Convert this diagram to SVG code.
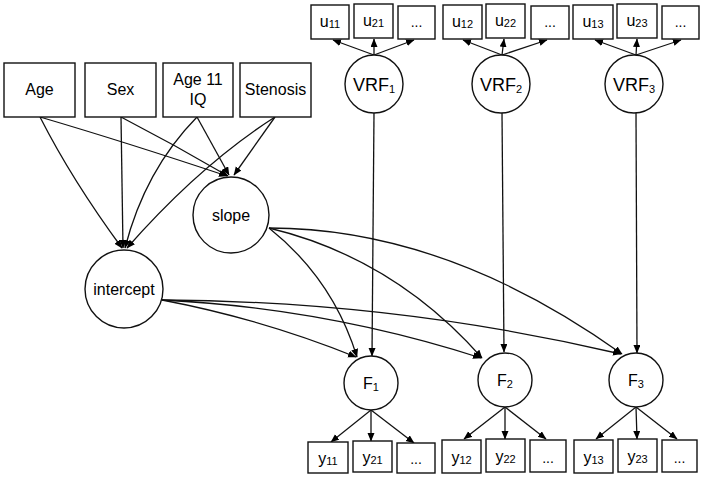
<svg xmlns="http://www.w3.org/2000/svg" width="702" height="481" viewBox="0 0 702 481">
<style>
.b{fill:#fff;stroke:#111;stroke-width:1.4}
.c{fill:#fff;stroke:#111;stroke-width:1.4}
.e{fill:none;stroke:#111;stroke-width:1.3}
text{font-family:"Liberation Sans",Arial,sans-serif;fill:#000;text-anchor:middle}
.t16{font-size:16px}
.t18{font-size:18px}
.s{font-size:11px}
.d{font-size:14px}
</style>
<defs>
<marker id="ah" markerUnits="userSpaceOnUse" markerWidth="10" markerHeight="8" refX="8" refY="3.5" orient="auto">
<path d="M0,0 L8.5,3.5 L0,7 z" fill="#000"/>
</marker>
</defs>
<rect width="702" height="481" fill="#fff"/>
<g id="connectors" class="e" marker-end="url(#ah)">
<path d="M40,117 Q125,142 227,176"/>
<path d="M40,117 Q72,180 122,248"/>
<path d="M121,117 L123,248"/>
<path d="M121,117 Q175,145 228,176"/>
<path d="M197,117 Q145,170 125,248"/>
<path d="M197,117 L229,175"/>
<path d="M275,117 Q200,165 127,248"/>
<path d="M275,117 L234,175"/>
<path d="M269,228 Q333,279 357,357"/>
<path d="M269,228 Q394,258 482,358"/>
<path d="M269,228 Q446,228 622,354"/>
<path d="M162,300 Q262,319 356,357"/>
<path d="M162,300 Q326,308 481,358"/>
<path d="M162,300 Q395,301 621,354"/>
<path d="M374,113 L372,356"/>
<path d="M502,113 L504,352"/>
<path d="M636,113 L637,353"/>
<path d="M374,55 L333,40"/>
<path d="M374,55 L374,39"/>
<path d="M374,55 L414,40"/>
<path d="M502,55 L463,40"/>
<path d="M502,55 L504,39"/>
<path d="M502,55 L547,40"/>
<path d="M636,55 L595,40"/>
<path d="M636,55 L637,39"/>
<path d="M636,55 L681,40"/>
<path d="M371,410 L331,442"/>
<path d="M371,410 L371,441"/>
<path d="M371,410 L414,443"/>
<path d="M505,407 L464,439"/>
<path d="M505,407 L505,439"/>
<path d="M505,407 L546,439"/>
<path d="M636,407 L596,439"/>
<path d="M636,407 L637,439"/>
<path d="M636,407 L677,439"/>
</g>
<g id="age"><rect class="b" x="4" y="63" width="71" height="54"/><text class="t16" x="39.5" y="95">Age</text></g>
<g id="sex"><rect class="b" x="85" y="63" width="71" height="54"/><text class="t16" x="120.5" y="95">Sex</text></g>
<g id="iq"><rect class="b" x="163" y="63" width="70" height="54"/><text class="t16" x="198" y="85">Age 11</text><text class="t16" x="198" y="105">IQ</text></g>
<g id="stenosis"><rect class="b" x="240" y="63" width="71" height="54"/><text class="t16" x="275.5" y="95">Stenosis</text></g>
<g id="slope"><circle class="c" cx="231" cy="215" r="38"/><text class="t16" x="231" y="221">slope</text></g>
<g id="intercept"><circle class="c" cx="124" cy="289" r="39"/><text class="t16" x="124" y="295">intercept</text></g>
<g id="vrf1"><circle class="c" cx="374" cy="84" r="29"/><text class="t18" x="374" y="91">VRF<tspan class="s" dy="2">1</tspan></text></g>
<g id="vrf2"><circle class="c" cx="501" cy="84" r="29"/><text class="t18" x="501" y="91">VRF<tspan class="s" dy="2">2</tspan></text></g>
<g id="vrf3"><circle class="c" cx="634" cy="84" r="29"/><text class="t18" x="634" y="91">VRF<tspan class="s" dy="2">3</tspan></text></g>
<g id="u11"><rect class="b" x="311" y="5" width="38" height="34"/><text class="t16" x="330" y="27">u<tspan class="s" dy="1">11</tspan></text></g>
<g id="u21"><rect class="b" x="354" y="4" width="39" height="34"/><text class="t16" x="373.5" y="26">u<tspan class="s" dy="1">21</tspan></text></g>
<g id="u1d"><rect class="b" x="398" y="6" width="37" height="33"/><text class="d" x="416.5" y="27">...</text></g>
<g id="u12"><rect class="b" x="443" y="5" width="39" height="34"/><text class="t16" x="462.5" y="27">u<tspan class="s" dy="1">12</tspan></text></g>
<g id="u22"><rect class="b" x="486" y="4" width="39" height="34"/><text class="t16" x="505.5" y="26">u<tspan class="s" dy="1">22</tspan></text></g>
<g id="u2d"><rect class="b" x="531" y="6" width="38" height="33"/><text class="d" x="550" y="27">...</text></g>
<g id="u13"><rect class="b" x="573" y="5" width="40" height="34"/><text class="t16" x="593" y="27">u<tspan class="s" dy="1">13</tspan></text></g>
<g id="u23"><rect class="b" x="617" y="4" width="40" height="34"/><text class="t16" x="637" y="26">u<tspan class="s" dy="1">23</tspan></text></g>
<g id="u3d"><rect class="b" x="662" y="6" width="37" height="33"/><text class="d" x="680.5" y="27">...</text></g>
<g id="f1"><circle class="c" cx="371" cy="383" r="27"/><text class="t16" x="371" y="389">F<tspan class="s" dy="2">1</tspan></text></g>
<g id="f2"><circle class="c" cx="505" cy="380" r="27"/><text class="t16" x="505" y="386">F<tspan class="s" dy="2">2</tspan></text></g>
<g id="f3"><circle class="c" cx="636" cy="380" r="27"/><text class="t16" x="636" y="386">F<tspan class="s" dy="2">3</tspan></text></g>
<g id="y11"><rect class="b" x="308" y="442" width="40" height="31"/><text class="t16" x="328" y="464">y<tspan class="s" dy="1">11</tspan></text></g>
<g id="y21"><rect class="b" x="353" y="441" width="39" height="31"/><text class="t16" x="372.5" y="463">y<tspan class="s" dy="1">21</tspan></text></g>
<g id="y1d"><rect class="b" x="397" y="443" width="38" height="30"/><text class="d" x="416" y="464">...</text></g>
<g id="y12"><rect class="b" x="442" y="440" width="39" height="33"/><text class="t16" x="461.5" y="463">y<tspan class="s" dy="1">12</tspan></text></g>
<g id="y22"><rect class="b" x="486" y="439" width="39" height="33"/><text class="t16" x="505.5" y="462">y<tspan class="s" dy="1">22</tspan></text></g>
<g id="y2d"><rect class="b" x="530" y="440" width="36" height="32"/><text class="d" x="548" y="463">...</text></g>
<g id="y13"><rect class="b" x="574" y="440" width="39" height="33"/><text class="t16" x="593.5" y="463">y<tspan class="s" dy="1">13</tspan></text></g>
<g id="y23"><rect class="b" x="618" y="439" width="39" height="33"/><text class="t16" x="637.5" y="462">y<tspan class="s" dy="1">23</tspan></text></g>
<g id="y3d"><rect class="b" x="662" y="440" width="35" height="32"/><text class="d" x="679.5" y="463">...</text></g>
</svg>
